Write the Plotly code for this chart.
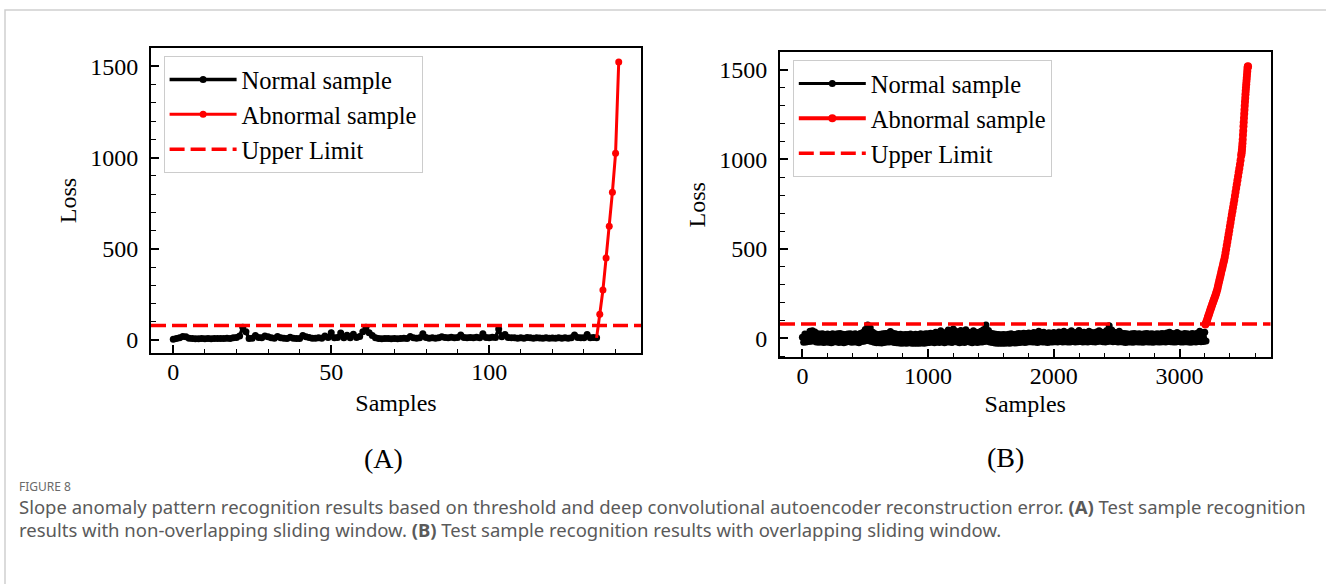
import plotly.graph_objects as go

# ---------------- data ----------------
# Panel (A): non-overlapping sliding window
a_normal_x = list(range(0, 135))
a_normal_loss = [
    5, 8, 12, 20, 18, 10, 8, 7, 7, 8,
    7, 8, 7, 8, 9, 8, 9, 10, 9, 12,
    14, 22, 70, 45, 8, 10, 25, 14, 12, 22,
    18, 12, 10, 20, 12, 10, 8, 15, 10, 9,
    9, 25, 18, 14, 10, 10, 12, 10, 22, 14,
    40, 12, 14, 38, 12, 26, 12, 32, 14, 20,
    45, 70, 40, 25, 12, 8, 7, 8, 8, 7,
    8, 7, 8, 10, 9, 20, 12, 10, 12, 35,
    14, 10, 12, 10, 12, 18, 14, 12, 15, 12,
    14, 28, 14, 12, 14, 12, 15, 12, 35, 14,
    12, 15, 14, 60, 18, 30, 14, 12, 12, 10,
    12, 10, 14, 12, 10, 12, 11, 10, 12, 10,
    11, 10, 12, 10, 12, 10, 12, 28, 14, 12,
    12, 30, 12, 14, 12,
]
a_abnormal_x = [135, 136, 137, 138, 139, 140, 141]
a_abnormal_loss = [141, 274, 449, 624, 810, 1023, 1523]

# Panel (B): overlapping sliding window (read every 10th sample)
b_normal_x = list(range(0, 3220, 10))
b_normal_loss = [
    6, -22, 24, -20, 22, -18, 40, -16, 42, -14, 36, -20, 26, -22, 24, -20, 25, -23, 22, -20,
    24, -22, 22, -25, 26, -21, 23, -19, 25, -23, 27, -21, 23, -24, 21, -20, 24, -18, 26, -22,
    23, -21, 25, -20, 22, -24, 27, -18, 32, -16, 50, -12, 74, -14, 58, -18, 34, -22, 25, -24,
    21, -25, 23, -26, 25, -23, 27, -21, 28, -20, 38, -19, 29, -23, 25, -25, 22, -26, 23, -27,
    20, -26, 22, -28, 21, -25, 24, -27, 20, -28, 23, -28, 21, -27, 25, -26, 23, -28, 26, -25,
    25, -23, 28, -21, 27, -24, 34, -20, 30, -23, 42, -19, 32, -24, 27, -21, 46, -20, 34, -23,
    52, -17, 39, -21, 32, -24, 44, -20, 29, -23, 48, -17, 34, -21, 30, -24, 42, -19, 34, -23,
    32, -21, 39, -20, 48, -17, 74, -15, 44, -20, 29, -23, 25, -26, 23, -27, 21, -28, 20, -27,
    22, -27, 20, -26, 23, -27, 25, -25, 21, -26, 23, -25, 27, -23, 25, -21, 29, -23, 27, -20,
    30, -19, 27, -21, 32, -20, 30, -23, 39, -19, 29, -21, 34, -20, 27, -23, 31, -21, 29, -20,
    32, -19, 27, -21, 36, -17, 31, -20, 40, -19, 29, -21, 34, -20, 42, -17, 31, -21, 32, -19,
    44, -17, 31, -20, 34, -19, 29, -21, 39, -17, 32, -19, 31, -21, 36, -17, 42, -15, 34, -19,
    32, -20, 44, -17, 70, -15, 46, -19, 34, -17, 31, -21, 39, -19, 29, -21, 27, -23, 25, -21,
    23, -20, 25, -22, 27, -19, 24, -21, 26, -20, 23, -22, 25, -19, 27, -21, 24, -20, 26, -22,
    23, -19, 25, -21, 24, -20, 27, -19, 25, -21, 30, -18, 34, -19, 27, -21, 25, -20, 32, -17,
    25, -20, 23, -21, 27, -19, 25, -20, 23, -22, 27, -19, 24, -20, 29, -17, 39, -19, 32, -17,
    34, -15,
]
b_abnormal_x = [
    3205, 3210, 3215, 3220, 3225, 3230, 3235, 3240, 3245, 3250,
    3255, 3260, 3265, 3270, 3275, 3280, 3285, 3290, 3295, 3300,
    3305, 3310, 3315, 3320, 3325, 3330, 3335, 3340, 3345, 3350,
    3355, 3360, 3365, 3370, 3375, 3380, 3385, 3390, 3395, 3400,
    3405, 3410, 3415, 3420, 3425, 3430, 3435, 3440, 3445, 3450,
    3455, 3460, 3465, 3470, 3475, 3480, 3485, 3490, 3492, 3494,
    3496, 3498, 3500, 3502, 3504, 3506, 3508, 3510, 3512, 3514,
    3516, 3518, 3520, 3522, 3524, 3526, 3528, 3530, 3532, 3534,
    3536, 3538, 3540, 3542, 3544,
]
b_abnormal_loss = [
    78, 86, 95, 106, 118, 128, 138, 148, 160, 170,
    180, 190, 200, 210, 220, 230, 240, 250, 262, 275,
    290, 305, 320, 335, 350, 365, 380, 395, 410, 425,
    440, 456, 477, 498, 519, 540, 561, 582, 603, 625,
    646, 668, 689, 710, 731, 752, 774, 796, 818, 840,
    862, 884, 906, 928, 950, 972, 996, 1020, 1030, 1042,
    1056, 1072, 1090, 1112, 1136, 1160, 1185, 1208, 1232, 1255,
    1278, 1300, 1322, 1344, 1364, 1384, 1402, 1420, 1438, 1456,
    1474, 1492, 1508, 1518, 1521,
]

upper_limit_a = 80
upper_limit_b = 80

series_names = ["Normal sample", "Abnormal sample", "Upper Limit"]
a_xticks = [0, 50, 100]
b_xticks = [0, 1000, 2000, 3000]
yticks = [0, 500, 1000, 1500]

# ---------------- styling ----------------
W, H = 1326, 584
SERIF = "Liberation Serif"
BLACK = "#000000"
RED = "#ff0000"


def px(x):
    return x / W


def py(y):
    return 1 - y / H


fig = go.Figure()

# Panel A traces
fig.add_trace(go.Scatter(
    x=a_normal_x, y=a_normal_loss, mode="lines+markers", name=series_names[0],
    line=dict(color=BLACK, width=3.5), marker=dict(size=7, color=BLACK),
    xaxis="x", yaxis="y", legend="legend"))
# red connector from the last normal sample to the first abnormal one
fig.add_trace(go.Scatter(
    x=[a_normal_x[-1], a_abnormal_x[0]], y=[a_normal_loss[-1], a_abnormal_loss[0]],
    mode="lines", line=dict(color=RED, width=3), showlegend=False,
    hoverinfo="skip", xaxis="x", yaxis="y"))
fig.add_trace(go.Scatter(
    x=a_abnormal_x, y=a_abnormal_loss, mode="lines+markers", name=series_names[1],
    line=dict(color=RED, width=3), marker=dict(size=7, color=RED),
    xaxis="x", yaxis="y", legend="legend"))

# Panel B traces
fig.add_trace(go.Scatter(
    x=b_normal_x, y=b_normal_loss, mode="lines+markers", name=series_names[0],
    line=dict(color=BLACK, width=3), marker=dict(size=7, color=BLACK),
    xaxis="x2", yaxis="y2", legend="legend2"))
fig.add_trace(go.Scatter(
    x=b_abnormal_x, y=b_abnormal_loss, mode="lines+markers", name=series_names[1],
    line=dict(color=RED, width=4), marker=dict(size=8, color=RED),
    xaxis="x2", yaxis="y2", legend="legend2"))

# Upper limits (full-width dashed lines)
fig.add_shape(type="line", xref="x domain", yref="y", x0=0, x1=1,
              y0=upper_limit_a, y1=upper_limit_a,
              line=dict(color=RED, width=3.5, dash="15px,6px"),
              showlegend=True, name=series_names[2], legend="legend")
fig.add_shape(type="line", xref="x2 domain", yref="y2", x0=0, x1=1,
              y0=upper_limit_b, y1=upper_limit_b,
              line=dict(color=RED, width=3.5, dash="15px,6px"),
              showlegend=True, name=series_names[2], legend="legend2")

# Outer card frame
fig.add_shape(type="rect", xref="paper", yref="paper",
              x0=px(5), x1=1.02, y0=-0.05, y1=py(10),
              line=dict(color="#cfcfcf", width=1.5), layer="below")

tickfont = dict(family=SERIF, size=24, color=BLACK)
titlefont = dict(family=SERIF, size=24, color=BLACK)


def xaxis_common(domain, rng, ticks, minor_dt, anchor, standoff):
    return dict(
        domain=domain, range=rng, anchor=anchor,
        tickmode="array", tickvals=ticks,
        ticks="inside", ticklen=8, tickwidth=1.5, tickcolor=BLACK,
        minor=dict(ticks="inside", dtick=minor_dt, tick0=0, ticklen=4.5,
                   tickwidth=1.2, tickcolor=BLACK, showgrid=False),
        showline=True, linewidth=2, linecolor=BLACK, mirror=True,
        showgrid=False, zeroline=False, tickfont=tickfont,
        ticklabelstandoff=-4,
        title=dict(text="Samples", font=titlefont, standoff=standoff),
    )


def yaxis_common(domain, rng, anchor):
    return dict(
        domain=domain, range=rng, anchor=anchor,
        tickmode="array", tickvals=yticks,
        ticks="inside", ticklen=8, tickwidth=1.5, tickcolor=BLACK,
        minor=dict(ticks="inside", dtick=100, tick0=0, ticklen=4.5,
                   tickwidth=1.2, tickcolor=BLACK, showgrid=False),
        showline=True, linewidth=2, linecolor=BLACK, mirror=True,
        showgrid=False, zeroline=False, tickfont=tickfont,
        ticklabelstandoff=6,
        title=dict(text="Loss", font=titlefont, standoff=7),
    )


legend_common = dict(
    xanchor="left", yanchor="top",
    bgcolor="rgba(255,255,255,0.85)", bordercolor="#cccccc", borderwidth=1,
    font=dict(family=SERIF, size=24.5, color=BLACK),
    itemwidth=67, tracegroupgap=0,
)

caption_font = dict(family="Noto Sans", size=18.5, color="#5a5a5a")

fig.update_layout(
    width=W, height=H, autosize=False,
    margin=dict(l=0, r=0, t=0, b=0),
    paper_bgcolor="white", plot_bgcolor="white",
    showlegend=True,
    xaxis=xaxis_common([px(151), px(641)], [-7.05, 148.05], a_xticks, 10, "y", 10),
    yaxis=yaxis_common([py(353), py(48)], [-71, 1600], "x"),
    xaxis2=xaxis_common([px(780), px(1270.5)], [-178, 3723], b_xticks, 200, "y2", 7),
    yaxis2=yaxis_common([py(357.3), py(52.3)], [-106, 1599], "x2"),
    legend=dict(x=px(163.6), y=py(56), **legend_common),
    legend2=dict(x=px(792.8), y=py(60), **legend_common),
    annotations=[
        dict(text="(A)", x=px(383.7), y=py(458), xref="paper", yref="paper",
             xanchor="center", yanchor="middle", showarrow=False,
             font=dict(family=SERIF, size=28, color=BLACK)),
        dict(text="(B)", x=px(1005.5), y=py(457), xref="paper", yref="paper",
             xanchor="center", yanchor="middle", showarrow=False,
             font=dict(family=SERIF, size=28, color=BLACK)),
        dict(text="FIGURE 8", x=px(17), y=py(487), xref="paper", yref="paper",
             xanchor="left", yanchor="middle", showarrow=False,
             font=dict(family="Noto Sans", size=12, color="#6a6a6a")),
        dict(text="Slope anomaly pattern recognition results based on threshold and deep "
                  "convolutional autoencoder reconstruction error. <b>(A)</b> Test sample recognition",
             x=px(17), y=py(506), xref="paper", yref="paper",
             xanchor="left", yanchor="middle", showarrow=False, font=caption_font),
        dict(text="results with non-overlapping sliding window. <b>(B)</b> Test sample "
                  "recognition results with overlapping sliding window.",
             x=px(17), y=py(529), xref="paper", yref="paper",
             xanchor="left", yanchor="middle", showarrow=False, font=caption_font),
    ],
)

fig.write_html("out.html")
